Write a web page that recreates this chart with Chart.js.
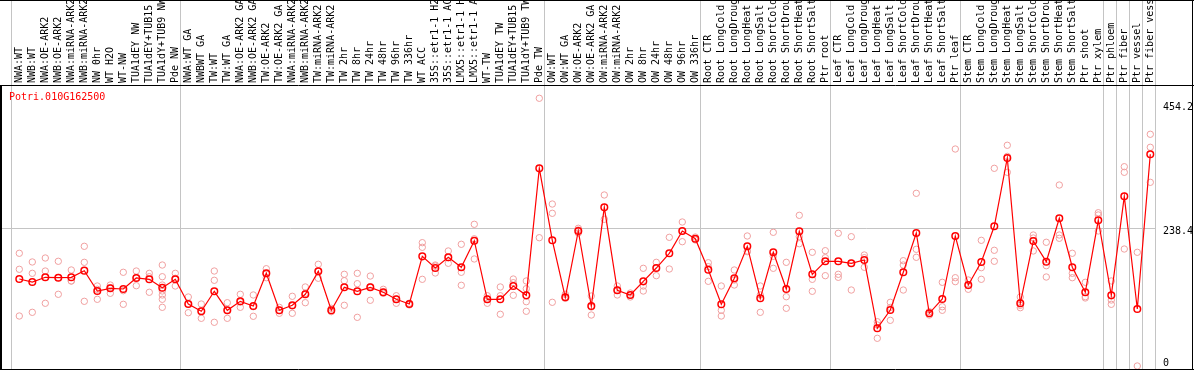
<!DOCTYPE html>
<html>
<head>
<meta charset="utf-8">
<script src="https://cdn.jsdelivr.net/npm/chart.js@4"></script>
<style>
  html, body { margin: 0; padding: 0; background: #fff; }
  #wrap { width: 1194px; height: 370px; }
</style>
</head>
<body>
<div id="wrap"><canvas id="chart" width="1194" height="370"></canvas></div>
<script>
// expression profile for one gene, means + replicate dots
const geneName = "Potri.010G162500";

const categories = [
  "NWA:WT", "NWB:WT", "NWA:OE-ARK2", "NWB:OE-ARK2", "NWA:miRNA-ARK2", "NWB:miRNA-ARK2",
  "NW 0hr", "WT H2O", "WT-NW", "TUA1dEY NW", "TUA1dEY+TUB15", "TUA1dY+TUB9 NW", "Pde NW",
  "NWA:WT GA", "NWBWT GA", "TW:WT", "TW:WT GA", "NWA:OE-ARK2 GA", "NWB:OE-ARK2 GA",
  "TW:OE-ARK2", "TW:OE-ARK2 GA", "NWA:miRNA-ARK2", "NWB:miRNA-ARK2", "TW:miRNA-ARK2",
  "TW:miRNA-ARK2", "TW 2hr", "TW 8hr", "TW 24hr", "TW 48hr", "TW 96hr", "TW 336hr",
  "WT ACC", "35S::etr1-1 H2", "35S::etr1-1 AC", "LMX5::etr1-1 H", "LMX5::etr1-1 A",
  "WT-TW", "TUA1dEY TW", "TUA1dEY+TUB15", "TUA1dY+TUB9 TW", "Pde TW",
  "OW:WT", "OW:WT GA", "OW:OE-ARK2", "OW:OE-ARK2 GA", "OW:miRNA-ARK2", "OW:miRNA-ARK2",
  "OW 2hr", "OW 8hr", "OW 24hr", "OW 48hr", "OW 96hr", "OW 336hr",
  "Root CTR", "Root LongCold", "Root LongDroug", "Root LongHeat", "Root LongSalt",
  "Root ShortCold", "Root ShortDrou", "Root ShortHeat", "Root ShortSalt", "Ptr root",
  "Leaf CTR", "Leaf LongCold", "Leaf LongDroug", "Leaf LongHeat", "Leaf LongSalt",
  "Leaf ShortCold", "Leaf ShortDrou", "Leaf ShortHeat", "Leaf ShortSalt", "Ptr leaf",
  "Stem CTR", "Stem LongCold", "Stem LongDroug", "Stem LongHeat", "Stem LongSalt",
  "Stem ShortCold", "Stem ShortDrou", "Stem ShortHeat", "Stem ShortSalt", "Ptr shoot",
  "Ptr xylem", "Ptr phloem", "Ptr fiber", "Ptr vessel", "Ptr fiber vess"
];

const means = [
  151.0, 145.8, 154.0, 153.3, 154.0, 165.5, 130.2, 134.9, 133.7, 152.8, 150.5, 135.9, 150.5,
  107.6, 95.0, 129.7, 96.7, 112.3, 104.2, 160.9, 96.7, 105.4, 124.5, 164.4, 96.7, 136.6,
  129.7, 136.6, 128.0, 115.8, 107.6, 190.4, 170.1, 188.7, 171.4, 217.5, 115.8, 115.8,
  138.9, 122.7, 343.2,
  218.2, 119.3, 234.4, 104.2, 275.5, 131.4, 123.3, 147.0, 170.1, 195.7, 234.4, 221.0,
  167.2, 107.1, 152.3, 207.8, 117.5, 197.4, 133.7, 233.9, 159.2, 181.8,
  181.8, 178.3, 184.0, 65.5, 97.2, 162.7, 230.9, 91.5, 116.3, 225.7,
  140.6, 180.6, 242.5, 361.1, 108.9, 217.0, 181.1, 256.4, 171.4, 128.0, 253.0,
  122.7, 294.6, 99.0, 367.5
];

const replicates = [
  [195.7, 167.9, 86.8], [180.6, 160.9, 93.2], [187.5, 164.9, 108.9], [181.8, 153.6, 124.5],
  [166.7, 147.6, 147.6], [207.8, 180.0, 112.3], [138.9, 133.2, 115.8], [140.6, 135.9, 126.2],
  [162.7, 130.7, 107.1], [164.9, 153.3, 139.4], [160.9, 155.0, 128.0],
  [175.3, 155.0, 140.6, 130.2, 123.3, 115.8, 101.9], [160.9, 152.3, 138.9],
  [119.8, 107.6, 92.5], [107.6, 95.5, 82.8], [164.9, 148.8, 75.9], [109.9, 97.2, 82.8],
  [124.5, 111.1, 101.9], [123.3, 102.9, 86.3], [168.9, 160.2, 153.3], [101.9, 96.7, 91.5],
  [121.0, 104.2, 91.5], [137.2, 126.2, 109.9], [176.6, 164.4, 152.3], [100.2, 95.5, 94.3],
  [159.2, 148.1, 105.4], [160.9, 142.9, 84.5], [156.2, 137.7, 114.1], [133.2, 128.0, 126.2],
  [122.0, 116.3, 108.9], [109.0, 107.6, 106.0], [214.1, 206.1, 150.5], [175.3, 173.6, 161.5],
  [199.7, 188.0, 178.3], [211.3, 162.7, 140.1], [246.0, 220.8, 185.8], [122.0, 116.3, 108.9],
  [137.2, 122.0, 89.8], [151.0, 144.6, 122.7], [147.6, 134.2, 111.6, 95.0], [464.8, 222.7],
  [281.2, 265.1, 110.6], [124.5, 119.8, 117.5], [239.1, 236.1, 230.9], [121.5, 102.4, 88.5],
  [296.9, 254.7], [138.9, 132.0, 123.3], [126.7, 123.3, 119.8], [169.6, 138.9, 130.2],
  [180.0, 170.1, 156.8], [223.4, 168.4], [250.0, 234.4, 215.8], [223.9, 220.5, 218.8],
  [179.3, 172.4, 147.0], [138.9, 96.7, 86.8], [166.7, 149.3, 140.6], [225.7, 199.7, 198.4],
  [138.9, 123.3, 93.2], [232.1, 190.4, 169.6], [180.0, 120.3, 100.2], [261.6, 224.5, 212.3],
  [197.4, 150.5, 129.7], [200.2, 188.0, 156.8],
  [230.4, 159.2, 154.0], [224.5, 178.8, 131.9], [192.7, 188.0, 171.4], [76.9, 71.2, 48.1],
  [110.6, 101.7, 79.3], [182.8, 175.3, 131.9], [299.8, 202.6, 188.7], [94.3, 91.5, 88.5],
  [145.3, 102.9, 96.7], [376.7, 153.3, 146.4],
  [149.3, 139.4, 133.2], [218.2, 170.7, 150.5], [343.2, 200.9, 181.8], [383.2, 363.9, 336.3],
  [119.8, 105.4, 101.2], [227.4, 222.2, 199.7], [214.8, 174.1, 154.5], [314.2, 227.4, 221.7],
  [195.7, 160.9, 153.3], [145.3, 120.3, 118.1], [266.1, 262.2, 234.4],
  [147.6, 114.6, 107.1], [346.0, 336.3, 203.1], [197.4, 0], [402.3, 379.7, 318.9]
];

// index where each sample group begins (last entry = end)
const groupStarts = [0, 13, 41, 53, 63, 73, 84, 85, 86, 87, 88];

const yTicks = [0, 238.4, 454.2];

const monoFont = { family: "'DejaVu Sans Mono', monospace", size: 10 };

const meanPoints = means.map((v, i) => ({ x: i, y: v }));
const repPoints = [];
replicates.forEach((reps, i) => {
  reps.forEach((v) => repPoints.push({ x: i, y: v }));
});

const framePlugin = {
  id: "frame",
  beforeDatasetsDraw(chart) {
    const ctx = chart.ctx;
    const xs = chart.scales.x;
    const area = chart.chartArea;
    ctx.save();
    ctx.strokeStyle = "#c4c4c4";
    ctx.lineWidth = 1;
    groupStarts.forEach((g) => {
      const px = Math.round(xs.getPixelForValue(g - 0.615)) + 0.5;
      ctx.beginPath();
      ctx.moveTo(px, 0);
      ctx.lineTo(px, area.bottom);
      ctx.stroke();
    });
    ctx.restore();
  },
  afterDraw(chart) {
    const ctx = chart.ctx;
    const area = chart.chartArea;
    const w = chart.width;
    ctx.save();
    ctx.strokeStyle = "#000";
    ctx.lineWidth = 1;
    ctx.beginPath();
    ctx.moveTo(0, 0.5); ctx.lineTo(w, 0.5);
    ctx.moveTo(0, area.top - 0.5); ctx.lineTo(w, area.top - 0.5);
    ctx.moveTo(0, area.bottom + 0.5); ctx.lineTo(w, area.bottom + 0.5);
    ctx.moveTo(w - 1.5, 0); ctx.lineTo(w - 1.5, chart.height);
    ctx.stroke();
    ctx.lineWidth = 2;
    ctx.beginPath();
    ctx.moveTo(1, area.top); ctx.lineTo(1, chart.height);
    ctx.stroke();

    ctx.fillStyle = "#ff0000";
    ctx.font = "10px 'DejaVu Sans Mono', monospace";
    ctx.textBaseline = "middle";
    ctx.fillText(geneName, 9, area.top + 11.5);
    ctx.restore();
  },
};

new Chart(document.getElementById("chart"), {
  type: "scatter",
  data: {
    datasets: [
      {
        label: "mean",
        data: meanPoints,
        showLine: true,
        borderColor: "#ff0000",
        borderWidth: 1.2,
        pointRadius: 3.3,
        pointBorderWidth: 1.5,
        pointBackgroundColor: "rgba(255,255,255,0)",
        pointBorderColor: "#ff0000",
        order: 0,
      },
      {
        label: "replicates",
        data: repPoints,
        showLine: false,
        pointRadius: 3.2,
        pointBorderWidth: 1,
        pointBackgroundColor: "rgba(255,255,255,0)",
        pointBorderColor: "#f0a0a0",
        order: 1,
      },
    ],
  },
  options: {
    responsive: false,
    animation: false,
    devicePixelRatio: 1,
    layout: { autoPadding: false, padding: { left: 2, right: 0, top: 0, bottom: 1 } },
    plugins: { legend: { display: false }, tooltip: { enabled: false }, title: { display: false } },
    scales: {
      x: {
        type: "linear",
        position: "top",
        min: -1.331,
        max: 87.362,
        afterBuildTicks: (s) => { s.ticks = categories.map((c, i) => ({ value: i })); },
        afterFit: (s) => { s.height = 86; s.paddingLeft = 0; s.paddingRight = 0; },
        grid: { display: false, drawTicks: false },
        border: { display: false },
        ticks: {
          autoSkip: false,
          minRotation: 90,
          maxRotation: 90,
          padding: 3,
          labelOffset: 12,
          color: "#000",
          font: monoFont,
          callback: (v) => categories[v],
        },
      },
      y: {
        position: "right",
        min: -5.2,
        max: 486.1,
        afterBuildTicks: (s) => { s.ticks = yTicks.map((v) => ({ value: v })); },
        afterFit: (s) => { s.width = 39; s.paddingTop = 0; s.paddingBottom = 0; },
        grid: {
          drawTicks: false,
          color: (c) => (c.index === 1 ? "#c4c4c4" : "rgba(0,0,0,0)"),
        },
        border: { display: false },
        ticks: {
          padding: 8,
          labelOffset: 3,
          color: "#000",
          font: monoFont,
          // the bottom label sits just above the frame, so lift it a line
          callback: (v) => (v === 0 ? ["0", ""] : String(v)),
        },
      },
    },
  },
  plugins: [framePlugin],
});
</script>
</body>
</html>
